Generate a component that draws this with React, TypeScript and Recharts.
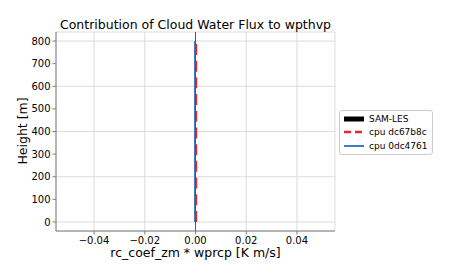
import {
  LineChart,
  Line,
  XAxis,
  YAxis,
  CartesianGrid,
  ReferenceLine,
} from "recharts";

// heights [m] of the output levels
const heights = [0, 50, 100, 150, 200, 250, 300, 350, 400, 450, 500, 550, 600, 650, 700, 750, 800];
// cpu dc67b8c (red dashed)
const dc67b8c = [0.0004, 0.0004, 0.0004, 0.0004, 0.0004, 0.0004, 0.0004, 0.0004, 0.0004, 0.0004, 0.0004, 0.0004, 0.0004, 0.0004, 0.0004, 0.0004, 0.0004];
// cpu 0dc4761 (blue)
const c0dc4761 = [-0.0002, -0.0002, -0.0002, -0.0002, -0.0002, -0.0002, -0.0002, -0.0002, -0.0002, -0.0002, -0.0002, -0.0002, -0.0002, -0.0002, -0.0002, -0.0002, -0.0002];

const xTicks = [-0.04, -0.02, 0, 0.02, 0.04];
const yTicks = [0, 100, 200, 300, 400, 500, 600, 700, 800];

const legendItems = [
  { name: "SAM-LES", color: "#000000", width: 5, dash: "" },
  { name: "cpu dc67b8c", color: "#e8262b", width: 2.5, dash: "7 4" },
  { name: "cpu 0dc4761", color: "#3b7dbd", width: 2, dash: "" },
];

const font = "'DejaVu Sans', sans-serif";
const axisColor = "#7f7f7f";

const fmtX = (v: number) => {
  const s = Math.abs(v).toFixed(2);
  return v < 0 ? "\u2212" + s : s;
};

const chartData = heights.map((h, i) => ({
  height: h,
  dc67b8c: dc67b8c[i],
  c0dc4761: c0dc4761[i],
}));

function LegendBox() {
  return (
    <div
      style={{
        position: "absolute",
        left: 339,
        top: 110,
        border: "1px solid #cccccc",
        borderRadius: 3,
        background: "#fff",
        padding: "1px 4px 1px 3px",
        fontFamily: font,
        fontSize: 9,
        color: "#000",
      }}
    >
      {legendItems.map((it) => (
        <div key={it.name} style={{ display: "flex", alignItems: "center", height: 13.5 }}>
          <svg width={22} height={8} style={{ marginRight: 4 }}>
            <line
              x1={1}
              x2={21}
              y1={4}
              y2={4}
              stroke={it.color}
              strokeWidth={it.width}
              strokeDasharray={it.dash || undefined}
            />
          </svg>
          <span>{it.name}</span>
        </div>
      ))}
    </div>
  );
}

const textStyle = {
  position: "absolute" as const,
  fontFamily: font,
  fontSize: 12.5,
  color: "#000",
  whiteSpace: "nowrap" as const,
};

export default function App() {
  return (
    <div
      style={{
        position: "absolute",
        left: 0,
        top: 0,
        width: 450,
        height: 270,
        background: "#fff",
      }}
    >
      <LineChart
        width={450}
        height={270}
        data={chartData}
        layout="vertical"
        margin={{ top: 32, right: 115, left: 16, bottom: 23 }}
        style={{ position: "absolute", left: 0, top: 0 }}
      >
        <CartesianGrid stroke="#d3d3d3" strokeWidth={0.8} />
        <XAxis
          type="number"
          dataKey="dc67b8c"
          domain={[-0.055, 0.055]}
          ticks={xTicks}
          tickFormatter={fmtX}
          allowDataOverflow
          height={16}
          stroke={axisColor}
          tickLine={{ stroke: axisColor }}
          tickSize={3.5}
          tick={{ fill: "#000", fontSize: 10, fontFamily: font }}
        />
        <XAxis xAxisId="top" orientation="top" type="number" domain={[-0.055, 0.055]} height={0} tick={false} tickLine={false} stroke={axisColor} />
        <YAxis
          type="number"
          dataKey="height"
          domain={[-40, 840]}
          ticks={yTicks}
          reversed
          allowDataOverflow
          width={40}
          stroke={axisColor}
          tickLine={{ stroke: axisColor }}
          tickSize={3.5}
          tick={{ fill: "#000", fontSize: 10, fontFamily: font }}
        />
        <YAxis yAxisId="right" orientation="right" type="number" domain={[-40, 840]} width={0} tick={false} tickLine={false} stroke={axisColor} />
        <Line
          dataKey="c0dc4761"
          stroke="#3b7dbd"
          strokeWidth={2}
          dot={false}
          isAnimationActive={false}
        />
        <ReferenceLine x={0} stroke="#555555" strokeWidth={1} />
        <Line
          dataKey="dc67b8c"
          stroke="#e8262b"
          strokeWidth={1.3}
          strokeDasharray="11 5.7"
          dot={false}
          isAnimationActive={false}
        />
      </LineChart>
      <div style={{ ...textStyle, left: 56, width: 279, top: 17, textAlign: "center" }}>
        Contribution of Cloud Water Flux to wpthvp
      </div>
      <div style={{ ...textStyle, left: 56, width: 279, top: 245, textAlign: "center" }}>
        rc_coef_zm * wprcp [K m/s]
      </div>
      <div
        style={{
          ...textStyle,
          left: 22,
          top: 131,
          transform: "translate(-50%, -50%) rotate(-90deg)",
        }}
      >
        Height [m]
      </div>
      <LegendBox />
    </div>
  );
}
